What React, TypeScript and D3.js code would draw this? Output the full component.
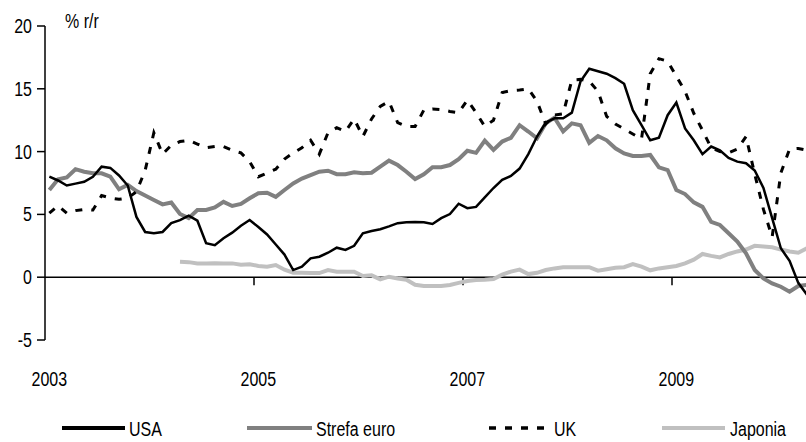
import React from "react";
import * as d3 from "d3";

// Monthly data, January 2003 – April 2010 (% r/r)
const usa = [8.0, 7.7, 7.3, 7.45, 7.6, 8.0, 8.8, 8.7, 8.1, 7.3, 4.8, 3.6, 3.5, 3.6, 4.3, 4.55, 4.9, 4.5, 2.7, 2.55,
  3.1, 3.55, 4.1, 4.55, 4.0, 3.4, 2.6, 1.8, 0.57, 0.84, 1.5, 1.63, 1.95, 2.35, 2.17, 2.5, 3.5, 3.68, 3.82, 4.05,
  4.3, 4.37, 4.4, 4.37, 4.24, 4.7, 5.03, 5.85, 5.5, 5.6, 6.35, 7.1, 7.75, 8.06, 8.65, 9.8, 11.2, 12.3, 12.65, 12.65,
  13.1, 15.6, 16.6, 16.4, 16.2, 15.85, 15.4, 13.3, 12.1, 10.9, 11.1, 12.9, 13.9, 11.85, 10.9, 9.8, 10.4, 10.1, 9.5, 9.2,
  9.07, 8.5, 7.1, 4.7, 2.3, 1.3, -0.45, -1.4];

const euro = [6.95, 7.8, 7.95, 8.6, 8.4, 8.27, 8.27, 8.0, 7.0, 7.35, 6.86, 6.5, 6.15, 5.8, 5.95, 5.03, 4.7, 5.35, 5.35, 5.55,
  6.0, 5.67, 5.83, 6.28, 6.68, 6.73, 6.4, 6.94, 7.47, 7.85, 8.13, 8.4, 8.48, 8.2, 8.2, 8.35, 8.27, 8.32, 8.8, 9.28,
  8.93, 8.4, 7.82, 8.2, 8.75, 8.75, 8.93, 9.39, 10.07, 9.9, 10.87, 10.13, 10.8, 11.1, 12.1, 11.6, 11.06, 12.25, 12.7, 11.6,
  12.25, 12.1, 10.7, 11.24, 10.9, 10.26, 9.86, 9.65, 9.65, 9.73, 8.75, 8.53, 6.94, 6.62, 5.96, 5.6, 4.4, 4.16, 3.5, 2.83,
  1.9, 0.57, -0.1, -0.5, -0.76, -1.15, -0.7, -0.62];

const uk = [5.1, 5.7, 5.1, 5.3, 5.4, 5.35, 6.5, 6.3, 6.2, 6.3, 6.8, 8.5, 11.5, 9.8, 10.5, 10.8, 10.9, 10.6, 10.3, 10.4,
  10.4, 10.1, 9.9, 9.2, 8.0, 8.3, 8.6, 9.4, 9.9, 10.3, 10.9, 9.8, 11.5, 11.9, 11.6, 12.6, 11.2, 12.6, 13.6, 14.0,
  12.3, 12.0, 12.0, 13.3, 13.4, 13.35, 13.2, 13.1, 14.1, 13.1, 12.0, 12.5, 14.7, 14.85, 14.9, 15.0, 14.0, 12.2, 12.9, 13.0,
  15.7, 15.75, 15.6, 14.8, 12.8, 12.2, 11.8, 11.4, 11.0, 16.2, 17.4, 17.2, 16.0, 14.8, 13.05, 11.7, 10.3, 10.0, 9.9, 10.2,
  11.2, 8.2, 5.4, 3.2, 8.3, 10.2, 10.25, 10.1];

// Japan series starts in April 2004 (month index 15)
const japanStart = 15;
const japan = [1.23, 1.2, 1.1, 1.1, 1.12, 1.1, 1.1, 1.0, 1.03, 0.9, 0.84, 0.97, 0.6, 0.36, 0.36,
  0.33, 0.33, 0.57, 0.44, 0.44, 0.44, 0.1, 0.15, -0.17, 0.04, -0.1, -0.2, -0.6, -0.7, -0.7,
  -0.7, -0.62, -0.45, -0.3, -0.22, -0.2, -0.15, 0.2, 0.44, 0.6, 0.25, 0.35, 0.57, 0.7, 0.8,
  0.8, 0.8, 0.8, 0.52, 0.63, 0.75, 0.8, 1.05, 0.84, 0.55, 0.7, 0.8, 0.89, 1.1, 1.4,
  1.85, 1.7, 1.58, 1.85, 2.05, 2.2, 2.5, 2.45, 2.38, 2.2, 2.05, 1.95, 2.3];

const yearLabels = ["2003", "2005", "2007", "2009"];
const monthsPerLabel = 24;
const yTicks = [-5, 0, 5, 10, 15, 20];
const seriesNames = ["USA", "Strefa euro", "UK", "Japonia"];

const FONT = "'Liberation Sans', Arial, sans-serif";
const SX = 0.82; // horizontal condensing to mimic a narrow face

type TProps = { x: number; y: number; anchor?: "start" | "middle" | "end"; size?: number; children: React.ReactNode };
function NText({ x, y, anchor = "start", size = 19.5, children }: TProps) {
  return (
    <text transform={`translate(${x},${y}) scale(${SX},1)`} textAnchor={anchor} fontSize={size} fill="#000">
      {children}
    </text>
  );
}

export default function App() {
  const W = 806, H = 442;
  const nMonths = 88;
  const x = d3.scaleLinear().domain([0, nMonths]).range([45, 45 + nMonths * (209 / 24)]);
  const y = d3.scaleLinear().domain([-5, 20]).range([340, 26]);

  const line = d3.line<[number, number]>().x(d => x(d[0] + 0.5)).y(d => y(d[1]));
  const toPts = (arr: number[], start = 0): [number, number][] => arr.map((v, i) => [i + start, v]);

  const series = [
    { name: seriesNames[0], data: toPts(usa), color: "#000000", width: 2.5, dash: undefined as string | undefined },
    { name: seriesNames[1], data: toPts(euro), color: "#808080", width: 4, dash: undefined },
    { name: seriesNames[2], data: toPts(uk), color: "#000000", width: 3, dash: "7,9" },
    { name: seriesNames[3], data: toPts(japan, japanStart), color: "#c0c0c0", width: 4, dash: undefined },
  ];
  const drawOrder = [3, 1, 2, 0];

  const legendItems = [
    { x1: 62, x2: 125, tx: 129 },
    { x1: 247, x2: 312, tx: 316 },
    { x1: 489, x2: 545, tx: 554 },
    { x1: 662, x2: 725, tx: 730 },
  ];
  const ly = 428;

  return (
    <svg width={W} height={H} style={{ position: "absolute", left: 0, top: 0, background: "#fff" }} fontFamily={FONT}>
      <rect x={0} y={0} width={W} height={H} fill="#fff" />
      {/* y axis */}
      <line x1={45} x2={45} y1={y(20)} y2={y(-5)} stroke="#000" strokeWidth={1.5} />
      {yTicks.map(t => (
        <g key={t}>
          <line x1={37} x2={45} y1={y(t)} y2={y(t)} stroke="#000" strokeWidth={1.5} />
          <NText x={32} y={y(t) + 7} anchor="end">{t}</NText>
        </g>
      ))}
      <NText x={65} y={28}>% r/r</NText>
      {/* x axis */}
      <line x1={45} x2={W} y1={y(0)} y2={y(0)} stroke="#000" strokeWidth={1.5} />
      {yearLabels.map((lab, k) => (
        <g key={lab}>
          {k > 0 && <line x1={x(k * monthsPerLabel)} x2={x(k * monthsPerLabel)} y1={y(0)} y2={y(0) + 8} stroke="#000" strokeWidth={1.5} />}
          <NText x={x(k * monthsPerLabel + 0.5)} y={386} anchor="middle">{lab}</NText>
        </g>
      ))}
      {/* lines */}
      {drawOrder.map(k => {
        const s = series[k];
        return (
          <path key={s.name} d={line(s.data) || ""} fill="none" stroke={s.color} strokeWidth={s.width}
            strokeDasharray={s.dash} strokeLinejoin="miter" />
        );
      })}
      {/* legend */}
      {series.map((s, k) => (
        <g key={s.name}>
          <line x1={legendItems[k].x1} x2={legendItems[k].x2} y1={ly} y2={ly} stroke={s.color}
            strokeWidth={s.dash ? 3.5 : 4} strokeDasharray={s.dash} />
          <NText x={legendItems[k].tx} y={ly + 8}>{s.name}</NText>
        </g>
      ))}
    </svg>
  );
}
